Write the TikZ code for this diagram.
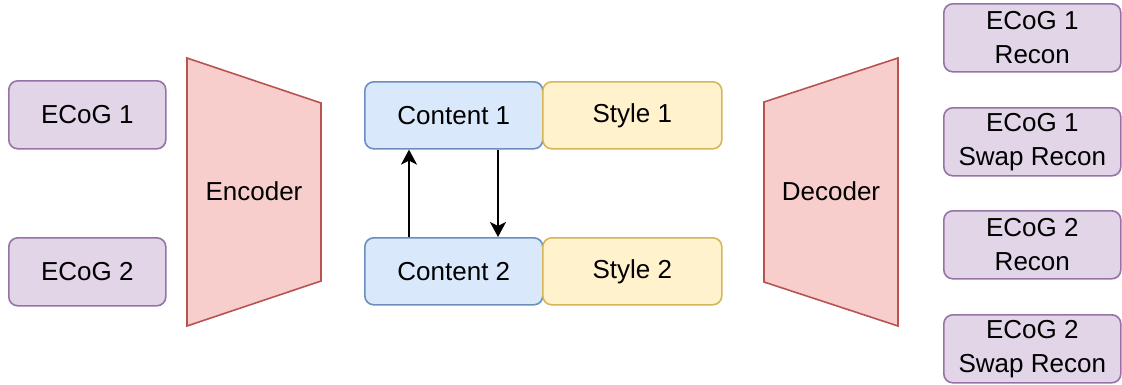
\documentclass[tikz,border=0pt]{standalone}
\usepackage{fontspec}
\setmainfont{Liberation Sans}
\usetikzlibrary{arrows.meta}
\definecolor{purfill}{HTML}{E1D5E7}
\definecolor{purline}{HTML}{9673A6}
\definecolor{bluefill}{HTML}{DAE8FC}
\definecolor{blueline}{HTML}{6C8EBF}
\definecolor{yelfill}{HTML}{FFF2CC}
\definecolor{yelline}{HTML}{D6B656}
\definecolor{redfill}{HTML}{F8CECC}
\definecolor{redline}{HTML}{B85450}
\tikzset{
  box/.style={draw, line width=1.6pt, rounded corners=9pt, anchor=north west,
    inner sep=0pt, align=center,
    font=\fontsize{26}{34}\selectfont},
  ecog/.style={box, fill=purfill, draw=purline},
  content/.style={box, fill=bluefill, draw=blueline},
  stylebox/.style={box, fill=yelfill, draw=yelline},
  coder/.style={fill=redfill, draw=redline, line width=1.6pt, line join=miter},
  label/.style={font=\fontsize{26}{32}\selectfont, inner sep=0pt},
  link/.style={line width=1.8pt, -{Stealth[length=15pt,width=16pt,inset=4pt]}},
}
\begin{document}
\begin{tikzpicture}[x=1pt,y=-1pt]
\useasboundingbox (0,0) rectangle (1122,384);
% input signals
\node[ecog, minimum width=157pt, minimum height=68pt] (in1) at (8,80) {ECoG 1};
\node[ecog, minimum width=157pt, minimum height=68pt] (in2) at (8,237) {ECoG 2};
% encoder
\draw[coder] (187,58) -- (321,103) -- (321,281) -- (187,326) -- cycle;
\node[label] (enc) at (254,191) {Encoder};
% latent codes
\node[content, minimum width=178pt, minimum height=67pt] (c1) at (364,81) {Content 1};
\node[stylebox, minimum width=179pt, minimum height=67pt] (s1) at (542,81) {Style 1};
\node[content, minimum width=178pt, minimum height=67pt] (c2) at (364,237) {Content 2};
\node[stylebox, minimum width=179pt, minimum height=67pt] (s2) at (542,237) {Style 2};
\draw[link] (c2.north west) ++(45,0) coordinate (u0) -- (u0 |- c1.south);
\draw[link] (c1.south west) ++(134,0) coordinate (d0) -- (d0 |- c2.north);
% decoder
\draw[coder] (764,102) -- (898,58) -- (898,326) -- (764,282) -- cycle;
\node[label] (dec) at (831,191) {Decoder};
% reconstructions
\node[ecog, minimum width=177pt, minimum height=68pt] (o1) at (943,3) {ECoG 1\\Recon};
\node[ecog, minimum width=177pt, minimum height=68pt] (o2) at (943,107) {ECoG 1\\Swap Recon};
\node[ecog, minimum width=177pt, minimum height=68pt] (o3) at (943,210) {ECoG 2\\Recon};
\node[ecog, minimum width=177pt, minimum height=68pt] (o4) at (943,314) {ECoG 2\\Swap Recon};
\end{tikzpicture}
\end{document}
